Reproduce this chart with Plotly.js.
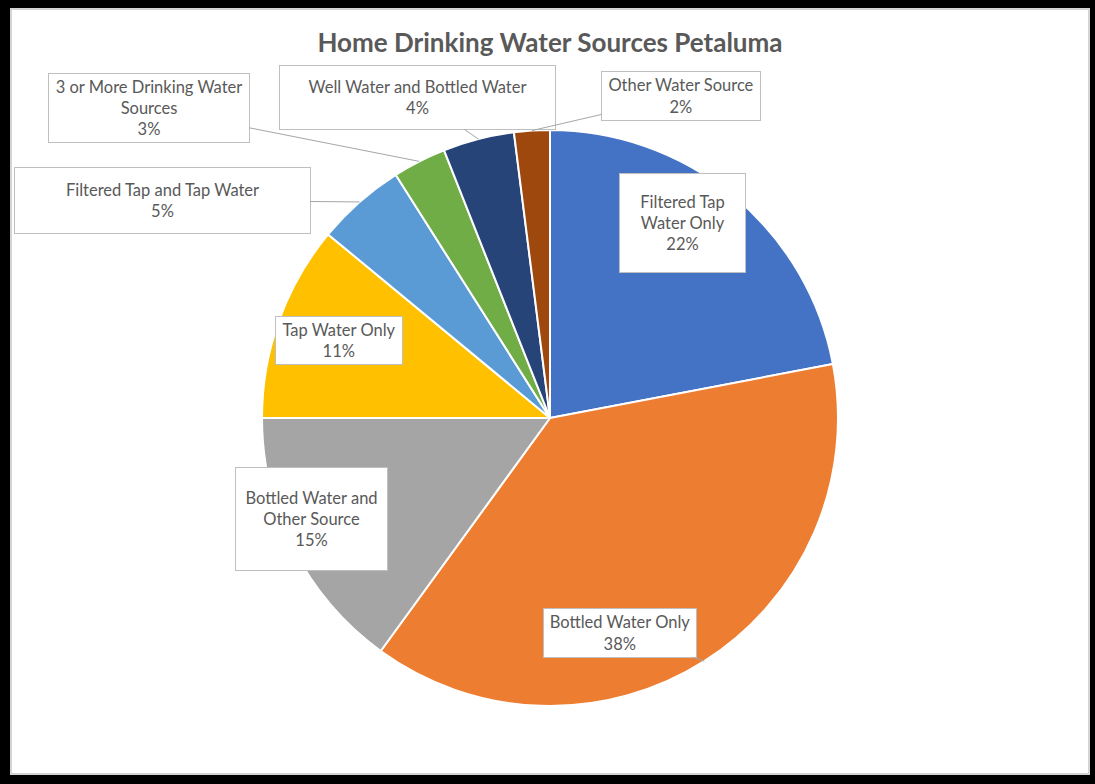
<!DOCTYPE html>
<html>
<head>
<meta charset="utf-8">
<script src="https://cdn.plot.ly/plotly-3.0.1.min.js"></script>
<style>
  html, body { margin: 0; padding: 0; background: #000; width: 1095px; height: 784px; overflow: hidden; }
  #frame { position: absolute; left: 10px; top: 8px; width: 1076px; height: 763px; border: 2px solid #d4d4d4; background: #fff; }
  #chart { position: absolute; left: 0; top: 0; width: 1076px; height: 763px; }
</style>
</head>
<body>
<div id="frame"><div id="chart"></div></div>
<script>
// ---- data ----
const categories = [
  "Filtered Tap Water Only",
  "Bottled Water Only",
  "Bottled Water and Other Source",
  "Tap Water Only",
  "Filtered Tap and Tap Water",
  "3 or More Drinking Water Sources",
  "Well Water and Bottled Water",
  "Other Water Source"
];
const values = [22, 38, 15, 11, 5, 3, 4, 2];
const labelLines = [
  "Filtered Tap<br>Water Only",
  "Bottled Water Only",
  "Bottled Water and<br>Other Source",
  "Tap Water Only",
  "Filtered Tap and Tap Water",
  "3 or More Drinking Water<br>Sources",
  "Well Water and Bottled Water",
  "Other Water Source"
];
const colors = ["#4472C4", "#ED7D31", "#A5A5A5", "#FFC000", "#5B9BD5", "#70AD47", "#264478", "#9E480E"];

// ---- layout (pixels in the chart div) ----
const W = 1076, H = 763;
const cx = 538, cy = 408, R = 288;
// label box centres and sizes [x, y, w, h], and whether a leader line is drawn
const boxes = [
  [670, 213, 127, 100, false],
  [608, 623, 154, 50, true],
  [299.5, 509, 153, 104, false],
  [327, 330, 128, 49, false],
  [150, 190, 297, 67, true],
  [137, 98, 202, 70, true],
  [406, 87.5, 277, 65, true],
  [669, 86, 160, 50, true]
];

const total = values.reduce((a, b) => a + b, 0);
const fmtPct = v => Math.round(v / total * 100) + "%";

const annotations = [];
let cum = 0;
values.forEach((v, i) => {
  const midFrac = (cum + v / 2) / total;
  cum += v;
  const ang = midFrac * 2 * Math.PI; // clockwise from 12 o'clock
  const tx = cx + R * Math.sin(ang);
  const ty = cy - R * Math.cos(ang);
  const b = boxes[i];
  const common = {
    text: labelLines[i] + "<br>" + fmtPct(v),
    xref: "paper", yref: "paper",
    font: { family: "Lato, 'Open Sans', sans-serif", size: 16.5, color: "#595959" },
    bgcolor: "#ffffff",
    bordercolor: "#bfbfbf",
    borderwidth: 1,
    borderpad: 0,
    width: b[2] - 2,
    height: b[3] - 2,
    align: "center",
    valign: "middle"
  };
  if (b[4]) {
    annotations.push(Object.assign(common, {
      x: tx / W, y: 1 - ty / H,
      showarrow: true, arrowhead: 0, arrowwidth: 1, arrowcolor: "#a6a6a6", standoff: 0,
      ax: b[0] - tx, ay: b[1] - ty
    }));
  } else {
    annotations.push(Object.assign(common, {
      x: b[0] / W, y: 1 - b[1] / H,
      xanchor: "center", yanchor: "middle", showarrow: false
    }));
  }
});

const trace = {
  type: "pie",
  labels: categories,
  values: values,
  sort: false,
  direction: "clockwise",
  rotation: 0,
  textinfo: "none",
  hoverinfo: "label+percent",
  marker: { colors: colors, line: { color: "#ffffff", width: 2 } },
  domain: {
    x: [(cx - R) / W, (cx + R) / W],
    y: [1 - (cy + R) / H, 1 - (cy - R) / H]
  },
  showlegend: false
};

const layout = {
  width: W, height: H,
  margin: { l: 0, r: 0, t: 0, b: 0 },
  paper_bgcolor: "#ffffff",
  title: {
    text: "<b>Home Drinking Water Sources Petaluma</b>",
    font: { family: "Lato, 'Open Sans', sans-serif", size: 26, color: "#595959" },
    x: 538 / W, xanchor: "center",
    y: 1 - 33 / H, yanchor: "middle", yref: "container"
  },
  annotations: annotations,
  showlegend: false
};

Plotly.newPlot("chart", [trace], layout, { displayModeBar: false, staticPlot: true });
</script>
</body>
</html>
